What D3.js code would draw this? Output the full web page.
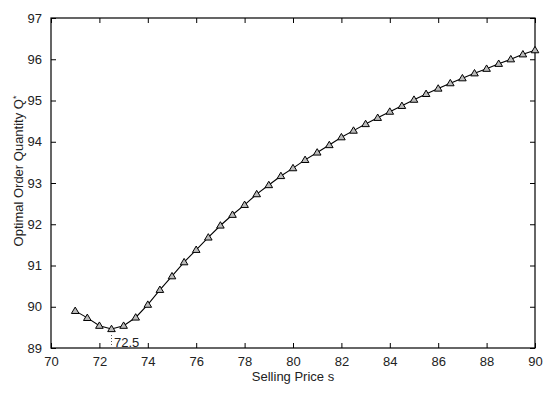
<!DOCTYPE html>
<html>
<head>
<meta charset="utf-8">
<script src="https://cdn.jsdelivr.net/npm/d3@7"></script>
<style>
  body { margin: 0; background: #fff; }
  svg { font-family: Arial, "Liberation Sans", sans-serif; }
</style>
</head>
<body>
<div id="chart"></div>
<script>
// selling price s
const prices = [71, 71.5, 72, 72.5, 73, 73.5, 74, 74.5, 75, 75.5, 76, 76.5, 77, 77.5, 78,
  78.5, 79, 79.5, 80, 80.5, 81, 81.5, 82, 82.5, 83, 83.5, 84, 84.5, 85, 85.5, 86, 86.5,
  87, 87.5, 88, 88.5, 89, 89.5, 90];
// optimal order quantity Q*
const quantities = [89.90, 89.73, 89.54, 89.46, 89.54, 89.74, 90.05, 90.41, 90.74, 91.08,
  91.38, 91.68, 91.97, 92.23, 92.47, 92.73, 92.95, 93.17, 93.36, 93.56, 93.74, 93.92,
  94.11, 94.27, 94.43, 94.58, 94.73, 94.87, 95.02, 95.16, 95.29, 95.42, 95.54, 95.66,
  95.77, 95.89, 96.00, 96.12, 96.22];
const xTicks = [70, 72, 74, 76, 78, 80, 82, 84, 86, 88, 90];
const yTicks = [89, 90, 91, 92, 93, 94, 95, 96, 97];
const minPrice = 72.5;

const W = 559, H = 394;
const margin = { top: 18, right: 24, bottom: 46, left: 51 };
const width = W - margin.left - margin.right;
const height = H - margin.top - margin.bottom;

const svg = d3.select("#chart").append("svg")
    .attr("width", W)
    .attr("height", H);
const g = svg.append("g")
    .attr("transform", `translate(${margin.left},${margin.top})`);

const x = d3.scaleLinear().domain([70, 90]).range([0, width]);
const y = d3.scaleLinear().domain([89, 97]).range([height, 0]);

// box with inward ticks on all sides
function styleAxis(sel) {
  sel.select(".domain").remove();
  sel.selectAll("line").attr("stroke", "#000").attr("stroke-width", 1);
  sel.selectAll("text").attr("fill", "#222").style("font-size", "13px");
}
g.append("g").attr("transform", `translate(0,${height})`)
    .call(d3.axisBottom(x).tickValues(xTicks).tickSize(-5).tickPadding(9).tickFormat(d3.format("d")))
    .call(styleAxis);
g.append("g")
    .call(d3.axisTop(x).tickValues(xTicks).tickSize(-5).tickFormat(""))
    .call(styleAxis);
g.append("g")
    .call(d3.axisLeft(y).tickValues(yTicks).tickSize(-5).tickPadding(9).tickFormat(d3.format("d")))
    .call(styleAxis);
g.append("g").attr("transform", `translate(${width},0)`)
    .call(d3.axisRight(y).tickValues(yTicks).tickSize(-5).tickFormat(""))
    .call(styleAxis);

g.append("rect")
    .attr("width", width).attr("height", height)
    .attr("fill", "none").attr("stroke", "#000").attr("stroke-width", 1.2);

const data = prices.map((p, i) => ({ p, q: quantities[i] }));

g.append("path")
    .datum(data)
    .attr("fill", "none")
    .attr("stroke", "#000")
    .attr("stroke-width", 1.1)
    .attr("d", d3.line().x(d => x(d.p)).y(d => y(d.q)));

g.selectAll(".marker")
    .data(data)
    .enter().append("path")
    .attr("class", "marker")
    .attr("transform", d => `translate(${x(d.p)},${y(d.q)})`)
    .attr("d", "M0,-3.8L3.8,2.6L-3.8,2.6Z")
    .attr("fill", "#bbb")
    .attr("stroke", "#000")
    .attr("stroke-width", 1);

// minimum annotation
const minQ = quantities[prices.indexOf(minPrice)];
g.append("line")
    .attr("x1", x(minPrice)).attr("x2", x(minPrice))
    .attr("y1", y(minQ) + 6).attr("y2", height - 1)
    .attr("stroke", "#555").attr("stroke-dasharray", "1,2");
g.append("text")
    .attr("x", x(minPrice) + 2.5)
    .attr("y", height - 1)
    .attr("fill", "#222")
    .style("font-size", "13px")
    .text(minPrice);

// axis labels
svg.append("text")
    .attr("x", margin.left + width / 2)
    .attr("y", 381)
    .attr("text-anchor", "middle")
    .attr("fill", "#222")
    .style("font-size", "13px")
    .text("Selling Price s");

const yl = svg.append("text")
    .attr("transform", "translate(23,171) rotate(-90)")
    .attr("text-anchor", "middle")
    .attr("fill", "#222")
    .style("font-size", "13px");
yl.append("tspan").text("Optimal Order Quantity Q");
yl.append("tspan").attr("dy", "-0.5em").style("font-size", "9px").text("*");
</script>
</body>
</html>
